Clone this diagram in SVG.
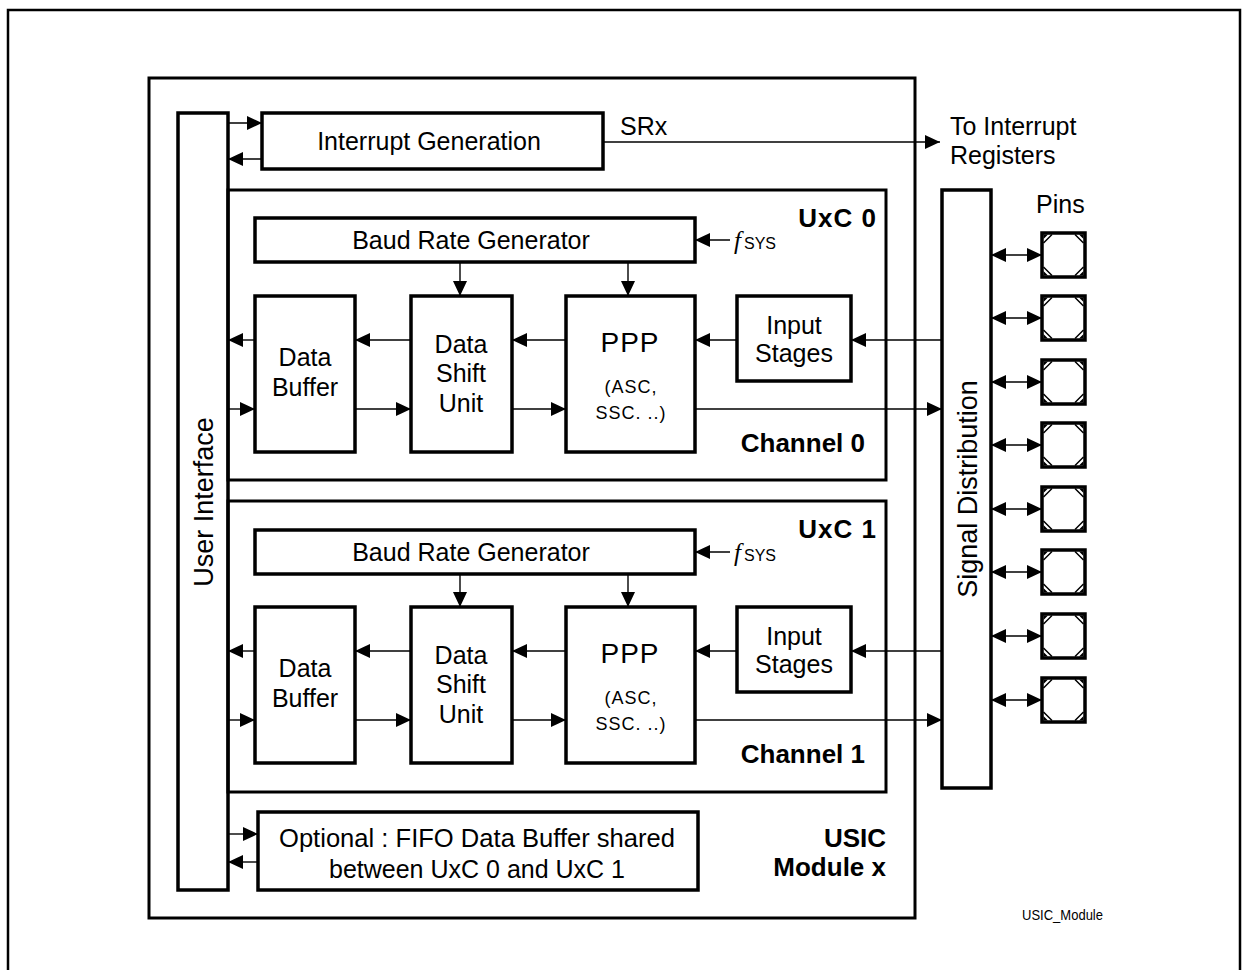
<svg xmlns="http://www.w3.org/2000/svg" width="1242" height="970" viewBox="0 0 1242 970">
<defs>
<marker id="ah" markerUnits="userSpaceOnUse" markerWidth="16" markerHeight="14" refX="15" refY="7" orient="auto-start-reverse">
<path d="M0,0 L15,7 L0,14 Z" fill="#000"/>
</marker>
<g id="pin">
<rect x="0" y="0" width="43" height="44" fill="#fff" stroke="#000" stroke-width="3.5"/>
<path d="M1.5,10 L10,1.5 M33,1.5 L41.5,10 M1.5,34 L10,42.5 M33,42.5 L41.5,34" stroke="#000" stroke-width="1.5" fill="none"/>
<path d="M1.5,1.5 L1.5,6 L6,1.5 Z M41.5,1.5 L37,1.5 L41.5,6 Z M1.5,42.5 L1.5,38 L6,42.5 Z M41.5,42.5 L41.5,38 L37,42.5 Z" fill="#000"/>
</g>
</defs>
<style>
.box{fill:#fff;stroke:#000;stroke-width:3.5}
.frame{fill:none;stroke:#000;stroke-width:3}
.ar{stroke:#000;stroke-width:1.4;fill:none;marker-end:url(#ah)}
.da{stroke:#000;stroke-width:1.4;fill:none;marker-end:url(#ah);marker-start:url(#ah)}
text{font-family:"Liberation Sans",Arial,sans-serif;fill:#000}
.t{font-size:25px;text-anchor:middle}
.r{font-size:27px;text-anchor:middle}
.p{font-size:28px;text-anchor:middle;letter-spacing:1px}
.s{font-size:18px;text-anchor:middle;letter-spacing:1px}
.b{font-size:26px;font-weight:bold;text-anchor:end}
.u{font-size:26px;font-weight:bold;text-anchor:end;letter-spacing:1px}
.bb{font-size:26px;font-weight:bold;text-anchor:end}
.l{font-size:25px}
.f{font-family:"Liberation Serif","Times New Roman",serif;font-style:italic;font-size:25px}
.sub{font-family:"Liberation Sans",Arial,sans-serif;font-style:normal;font-size:16px}
</style>
<rect x="0" y="0" width="1242" height="970" fill="#fff"/>
<path d="M8,975 L8,10 L1240,10 L1240,975" fill="none" stroke="#000" stroke-width="2.5"/>

<g id="module">
<rect class="frame" x="149" y="78" width="766" height="840"/>
</g>

<g id="user-interface">
<rect class="box" x="178" y="113" width="50" height="777"/>
<text class="r" transform="translate(213,502) rotate(-90)">User Interface</text>
</g>

<g id="interrupt-generation">
<rect class="box" x="262" y="113" width="341" height="56"/>
<text class="t" x="429" y="150">Interrupt Generation</text>
</g>

<g id="channel0">
<rect class="frame" x="228" y="190" width="658" height="290"/>
<text class="u" x="877" y="227">UxC 0</text>
<text class="b" x="865" y="452">Channel  0</text>
</g>
<g id="brg0">
<rect class="box" x="255" y="218" width="440" height="44"/>
<text class="t" x="471" y="249">Baud Rate Generator</text>
</g>
<g id="databuffer0">
<rect class="box" x="255" y="296" width="100" height="156"/>
<text class="t" x="305" y="366">Data</text>
<text class="t" x="305" y="396">Buffer</text>
</g>
<g id="dsu0">
<rect class="box" x="411" y="296" width="101" height="156"/>
<text class="t" x="461" y="353">Data</text>
<text class="t" x="461" y="382">Shift</text>
<text class="t" x="461" y="412">Unit</text>
</g>
<g id="ppp0">
<rect class="box" x="566" y="296" width="129" height="156"/>
<text class="p" x="630" y="352">PPP</text>
<text class="s" x="631" y="393">(ASC,</text>
<text class="s" x="631" y="419">SSC. ..)</text>
</g>
<g id="input0">
<rect class="box" x="737" y="296" width="114" height="85"/>
<text class="t" x="794" y="334">Input</text>
<text class="t" x="794" y="362">Stages</text>
</g>
<g id="fsys0">
<text class="f" x="734" y="249">f<tspan class="sub" dx="3">SYS</tspan></text>
</g>

<g id="channel1">
<rect class="frame" x="228" y="501" width="658" height="291"/>
<text class="u" x="877" y="538">UxC 1</text>
<text class="b" x="865" y="763">Channel  1</text>
</g>
<g id="brg1">
<rect class="box" x="255" y="530" width="440" height="44"/>
<text class="t" x="471" y="561">Baud Rate Generator</text>
</g>
<g id="databuffer1">
<rect class="box" x="255" y="607" width="100" height="156"/>
<text class="t" x="305" y="677">Data</text>
<text class="t" x="305" y="707">Buffer</text>
</g>
<g id="dsu1">
<rect class="box" x="411" y="607" width="101" height="156"/>
<text class="t" x="461" y="664">Data</text>
<text class="t" x="461" y="693">Shift</text>
<text class="t" x="461" y="723">Unit</text>
</g>
<g id="ppp1">
<rect class="box" x="566" y="607" width="129" height="156"/>
<text class="p" x="630" y="663">PPP</text>
<text class="s" x="631" y="704">(ASC,</text>
<text class="s" x="631" y="730">SSC. ..)</text>
</g>
<g id="input1">
<rect class="box" x="737" y="607" width="114" height="85"/>
<text class="t" x="794" y="645">Input</text>
<text class="t" x="794" y="673">Stages</text>
</g>
<g id="fsys1">
<text class="f" x="734" y="561">f<tspan class="sub" dx="3">SYS</tspan></text>
</g>

<g id="fifo">
<rect class="box" x="258" y="812" width="440" height="78"/>
<text class="t" x="477" y="847" font-size="26" textLength="396" lengthAdjust="spacingAndGlyphs">Optional : FIFO Data Buffer shared</text>
<text class="t" x="477" y="878" font-size="26" textLength="296" lengthAdjust="spacingAndGlyphs">between UxC 0 and UxC 1</text>
</g>
<g id="usic-label">
<text class="bb" x="886" y="847">USIC</text>
<text class="bb" x="886" y="876">Module x</text>
</g>

<g id="signal-distribution">
<rect class="box" x="942" y="190" width="49" height="598"/>
<text class="r" transform="translate(977,489) rotate(-90)">Signal Distribution</text>
</g>

<g id="labels">
<text class="l" x="620" y="135">SRx</text>
<text class="l" x="950" y="135">To Interrupt</text>
<text class="l" x="950" y="164">Registers</text>
<text class="l" x="1036" y="213">Pins</text>
<text x="1022" y="920" font-size="15" textLength="81" lengthAdjust="spacingAndGlyphs">USIC_Module</text>
</g>

<g id="pins">
<use href="#pin" x="1042" y="233"/>
<use href="#pin" x="1042" y="296"/>
<use href="#pin" x="1042" y="360"/>
<use href="#pin" x="1042" y="423"/>
<use href="#pin" x="1042" y="487"/>
<use href="#pin" x="1042" y="550"/>
<use href="#pin" x="1042" y="614"/>
<use href="#pin" x="1042" y="678"/>
</g>

<g id="connectors">
<line class="ar" x1="228" y1="123" x2="262" y2="123"/>
<line class="ar" x1="262" y1="159" x2="228" y2="159"/>
<line class="ar" x1="603" y1="142" x2="940" y2="142"/>
<line class="ar" x1="228" y1="834" x2="258" y2="834"/>
<line class="ar" x1="258" y1="862" x2="228" y2="862"/>

<line class="ar" x1="730" y1="240" x2="695" y2="240"/>
<line class="ar" x1="460" y1="262" x2="460" y2="296"/>
<line class="ar" x1="628" y1="262" x2="628" y2="296"/>
<line class="ar" x1="942" y1="340" x2="851" y2="340"/>
<line class="ar" x1="737" y1="340" x2="695" y2="340"/>
<line class="ar" x1="566" y1="340" x2="512" y2="340"/>
<line class="ar" x1="411" y1="340" x2="355" y2="340"/>
<line class="ar" x1="255" y1="340" x2="228" y2="340"/>
<line class="ar" x1="228" y1="409" x2="255" y2="409"/>
<line class="ar" x1="355" y1="409" x2="411" y2="409"/>
<line class="ar" x1="512" y1="409" x2="566" y2="409"/>
<line class="ar" x1="695" y1="409" x2="942" y2="409"/>

<line class="ar" x1="730" y1="552" x2="695" y2="552"/>
<line class="ar" x1="460" y1="574" x2="460" y2="607"/>
<line class="ar" x1="628" y1="574" x2="628" y2="607"/>
<line class="ar" x1="942" y1="651" x2="851" y2="651"/>
<line class="ar" x1="737" y1="651" x2="695" y2="651"/>
<line class="ar" x1="566" y1="651" x2="512" y2="651"/>
<line class="ar" x1="411" y1="651" x2="355" y2="651"/>
<line class="ar" x1="255" y1="651" x2="228" y2="651"/>
<line class="ar" x1="228" y1="720" x2="255" y2="720"/>
<line class="ar" x1="355" y1="720" x2="411" y2="720"/>
<line class="ar" x1="512" y1="720" x2="566" y2="720"/>
<line class="ar" x1="695" y1="720" x2="942" y2="720"/>

<line class="da" x1="991" y1="255" x2="1042" y2="255"/>
<line class="da" x1="991" y1="318" x2="1042" y2="318"/>
<line class="da" x1="991" y1="382" x2="1042" y2="382"/>
<line class="da" x1="991" y1="445" x2="1042" y2="445"/>
<line class="da" x1="991" y1="509" x2="1042" y2="509"/>
<line class="da" x1="991" y1="572" x2="1042" y2="572"/>
<line class="da" x1="991" y1="636" x2="1042" y2="636"/>
<line class="da" x1="991" y1="700" x2="1042" y2="700"/>
</g>
</svg>
